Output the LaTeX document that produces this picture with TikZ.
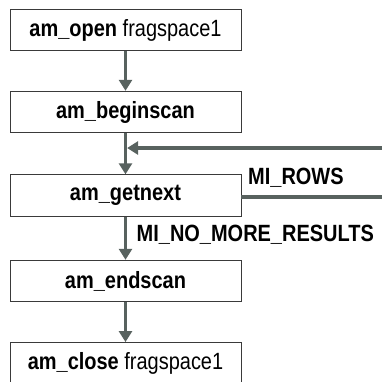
\documentclass[tikz,border=0pt]{standalone}
\usepackage{fontspec}
\setmainfont[FakeStretch=0.85]{Liberation Sans}
\usetikzlibrary{arrows.meta,calc}
\definecolor{arrowgray}{HTML}{58625F}
\definecolor{boxline}{HTML}{3A3A3A}
\begin{document}
\begin{tikzpicture}[x=1pt,y=-1pt,
  stepbox/.style={draw=boxline,line width=0.9pt,fill=white,minimum width=231pt,minimum height=41.5pt,inner sep=0pt,
    font=\fontsize{23.5}{27}\selectfont},
  flow/.style={draw=arrowgray,line width=3.2pt,-{Triangle[width=13pt,length=11pt]},color=arrowgray},
  plain/.style={draw=arrowgray,line width=3.2pt},
  lbl/.style={font=\fontsize{23.5}{27}\selectfont\bfseries,inner sep=0pt,anchor=base west}]
\useasboundingbox (0,0) rectangle (382,381);
\clip (0,0) rectangle (382,381);
\node[stepbox] (b1) at (125.5,30) {\textbf{am\_open} fragspace1};
\node[stepbox] (b2) at (125.5,112) {\textbf{am\_beginscan}};
\node[stepbox] (b3) at (125.5,195.5) {\textbf{am\_getnext}};
\node[stepbox] (b4) at (125.5,281) {\textbf{am\_endscan}};
\node[stepbox,minimum height=42pt] (b5) at (125.5,363.5) {\textbf{am\_close} fragspace1};
\coordinate (fbR) at (383,148);
\coordinate (rowsR) at (383,197);
\draw[flow] (b1.south) -- (b2.north);
\draw[flow] (b2.south) -- (b3.north);
\draw[flow] (b3.south) -- (b4.north);
\draw[flow] (b4.south) -- (b5.north);
\draw[flow,shorten >=1.6pt] (fbR) -- (fbR -| b2.south);
\draw[plain] (b3.east |- rowsR) -- (rowsR);
\node[lbl] (rows) at (248,184) {MI\_ROWS};
\node[lbl] (nomore) at (136.5,241.5) {MI\_NO\_MORE\_RESULTS};
\end{tikzpicture}
\end{document}
